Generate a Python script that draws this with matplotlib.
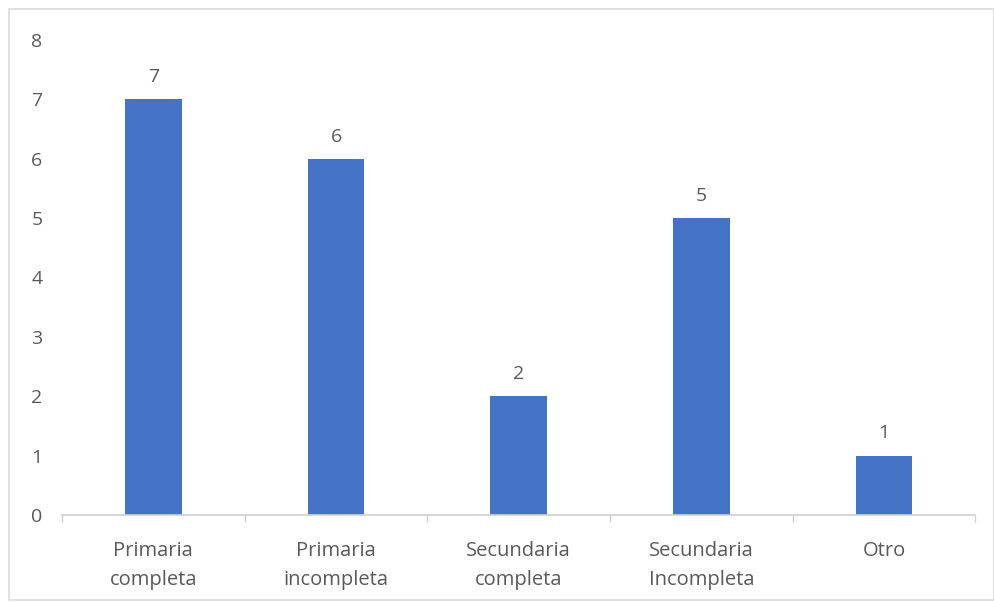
import matplotlib.pyplot as plt
from matplotlib.patches import Rectangle

categorias = ["Primaria\ncompleta", "Primaria\nincompleta", "Secundaria\ncompleta",
              "Secundaria\nIncompleta", "Otro"]
valores = [7, 6, 2, 5, 1]
yticks = [0, 1, 2, 3, 4, 5, 6, 7, 8]

gris = "#595959"
plt.rcParams['font.family'] = ['Open Sans', 'DejaVu Sans']

fig = plt.figure(figsize=(9.95, 6.03), dpi=100)
ax = fig.add_axes([0.0623, 0.146, 0.918, 0.788])

x = range(len(valores))
bars = ax.bar(x, valores, width=0.31, color="#4472C4", zorder=2)
for b, v in zip(bars, valores):
    ax.text(b.get_x() + b.get_width() / 2, v + 0.22, str(v), ha="center", va="bottom",
            fontsize=14, color=gris)

ax.set_xlim(-0.5, len(valores) - 0.5)
ax.set_ylim(0, 8)
ax.set_yticks(yticks)
ax.set_yticklabels([str(t) for t in yticks], fontsize=14, color=gris)
ax.set_xticks(list(x))
ax.set_xticklabels(categorias, fontsize=14.5, color=gris, linespacing=1.6)
ax.tick_params(axis="x", length=0, pad=19)
ax.tick_params(axis="y", length=0, pad=14)

# category separators on the x axis
ax.set_xticks([i - 0.5 for i in range(len(valores) + 1)], minor=True)
ax.tick_params(axis="x", which="minor", length=5, color="#d0d0d0", width=1)

for s in ["top", "right", "left"]:
    ax.spines[s].set_visible(False)
ax.spines["bottom"].set_color("#d0d0d0")
ax.spines["bottom"].set_linewidth(1.2)

# chart area border
fig.patches.append(Rectangle((0.009, 0.005), 0.99, 0.98, transform=fig.transFigure,
                             fill=False, edgecolor="#d9d9d9", linewidth=1.2))

fig.savefig("out.png", dpi=100)
